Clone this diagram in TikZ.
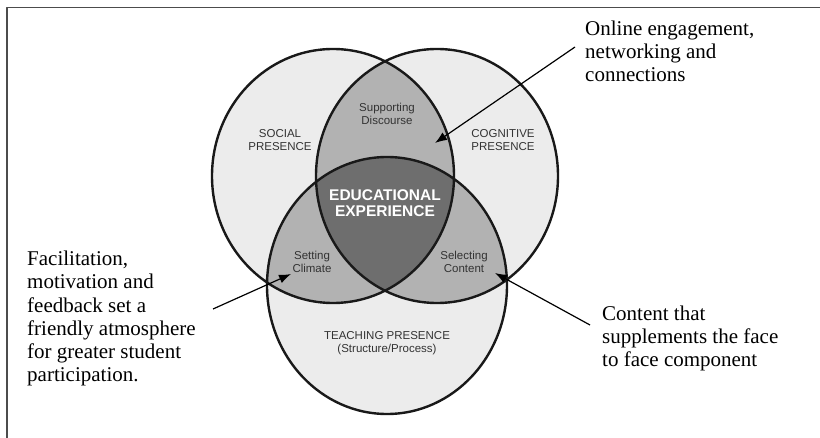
\documentclass[tikz,border=0pt]{standalone}
\usepackage{fontspec}
\setmainfont{Liberation Serif}
\setsansfont{Liberation Sans}
\usetikzlibrary{arrows.meta}
\definecolor{lightfill}{gray}{0.925}
\definecolor{midfill}{gray}{0.70}
\definecolor{darkfill}{gray}{0.43}
\definecolor{labelgray}{gray}{0.2}
\tikzset{
  note/.style={font=\fontsize{21}{23.3}\selectfont, align=left, anchor=base west, inner sep=0pt},
  tag/.style={font=\sffamily\fontsize{11.5}{12.5}\selectfont, text=labelgray, align=center, inner sep=0pt},
  ring/.style={line width=2.4pt, black!90},
  pointer/.style={->, line width=1.2pt}
}
\newcommand{\socialE}{(333,176) ellipse [x radius=121, y radius=127]}
\newcommand{\cogE}{(437,176) ellipse [x radius=121, y radius=127]}
\newcommand{\teachE}{(387,285.5) ellipse [x radius=120, y radius=128.5]}
\begin{document}
\begin{tikzpicture}[x=1pt, y=-1pt, >={Latex[length=12pt,width=9pt]}, line join=round]
  \useasboundingbox (0,0) rectangle (820,438);
  \draw[gray!60!black, line width=1.8pt] (820,7.5) -- (7,7.5) -- (7,438);
  \fill[lightfill] \socialE \cogE \teachE;
  \begin{scope}
    \clip \socialE;
    \fill[midfill] \cogE;
    \fill[midfill] \teachE;
  \end{scope}
  \begin{scope}
    \clip \cogE;
    \fill[midfill] \teachE;
  \end{scope}
  \begin{scope}
    \clip \socialE;
    \clip \cogE;
    \fill[darkfill] \teachE;
  \end{scope}
  \draw[ring] \socialE \cogE \teachE;
  \node[tag] (social) at (280,140) {SOCIAL\\PRESENCE};
  \node[tag] (cognitive) at (503,140) {COGNITIVE\\PRESENCE};
  \node[tag] (discourse) at (387,114) {Supporting\\Discourse};
  \node[tag] (climate) at (312,262) {Setting\\Climate};
  \node[tag] (content) at (464,262) {Selecting\\Content};
  \node[tag] (teaching) at (387,343) {TEACHING PRESENCE\\(Structure/Process)};
  \node[font=\sffamily\bfseries\fontsize{15.5}{16.5}\selectfont, text=white, align=center, inner sep=0pt] (experience) at (385,203) {EDUCATIONAL\\EXPERIENCE};
  \node[note] (online) at (585,82) {Online engagement,\\networking and\\connections};
  \node[note] (facil) at (27,382) {Facilitation,\\motivation and\\feedback set a\\friendly atmosphere\\for greater student\\participation.};
  \node[note] (supplement) at (602,367) {Content that\\supplements the face\\to face component};
  \coordinate (onlineTail) at (575,47);
  \coordinate (discourseTip) at (435,143);
  \coordinate (facilTail) at (213,309);
  \coordinate (climateTip) at (291,274);
  \coordinate (contentTail) at (590,325);
  \coordinate (contentTip) at (495,273);
  \draw[pointer] (onlineTail) -- (discourseTip);
  \draw[pointer] (facilTail) -- (climateTip);
  \draw[pointer] (contentTail) -- (contentTip);
\end{tikzpicture}
\end{document}
